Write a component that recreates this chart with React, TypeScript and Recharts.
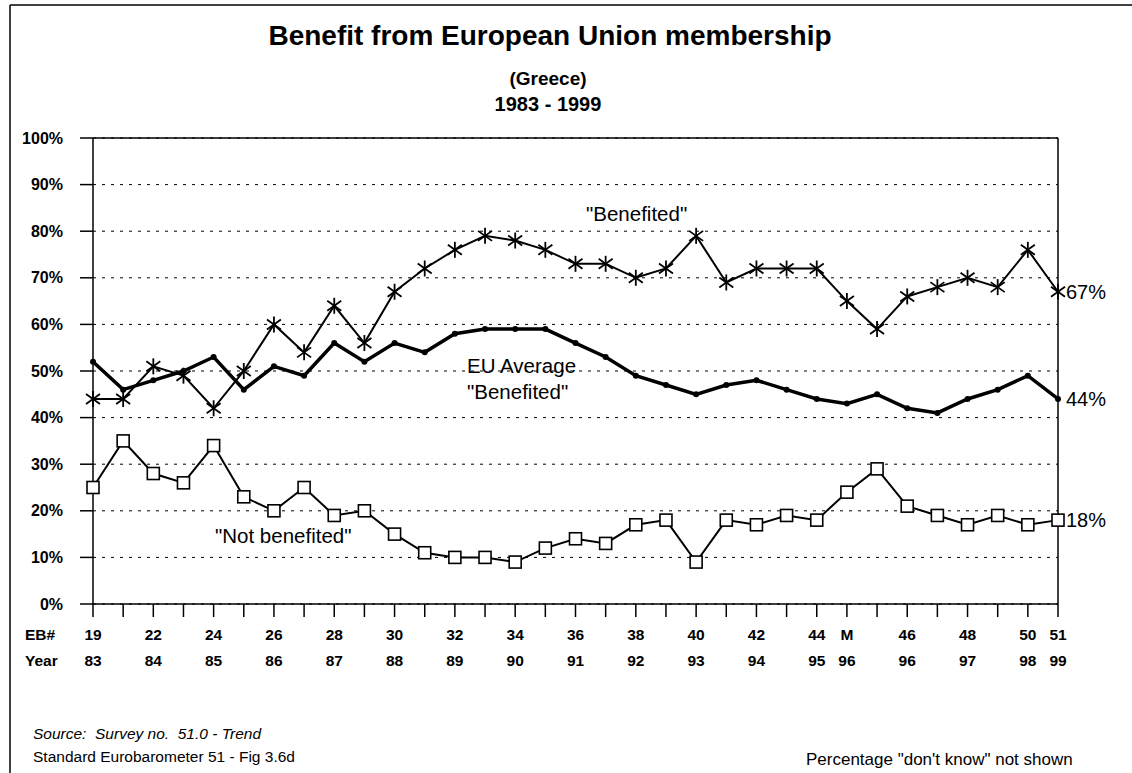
import React from 'react';
import { LineChart, Line, XAxis, YAxis, CartesianGrid, ReferenceLine } from 'recharts';

// EB survey numbers and fieldwork years under each point
const ebNumbers = ['19', '', '22', '', '24', '', '26', '', '28', '', '30', '', '32', '', '34', '', '36', '', '38', '', '40', '', '42', '', '44', 'M', '', '46', '', '48', '', '50', '51'];
const years = ['83', '', '84', '', '85', '', '86', '', '87', '', '88', '', '89', '', '90', '', '91', '', '92', '', '93', '', '94', '', '95', '96', '', '96', '', '97', '', '98', '99'];

const benefited = [44, 44, 51, 49, 42, 50, 60, 54, 64, 56, 67, 72, 76, 79, 78, 76, 73, 73, 70, 72, 79, 69, 72, 72, 72, 65, 59, 66, 68, 70, 68, 76, 67];
const euAverage = [52, 46, 48, 50, 53, 46, 51, 49, 56, 52, 56, 54, 58, 59, 59, 59, 56, 53, 49, 47, 45, 47, 48, 46, 44, 43, 45, 42, 41, 44, 46, 49, 44];
const notBenefited = [25, 35, 28, 26, 34, 23, 20, 25, 19, 20, 15, 11, 10, 10, 9, 12, 14, 13, 17, 18, 9, 18, 17, 19, 18, 24, 29, 21, 19, 17, 19, 17, 18];

const yTicks = [0, 10, 20, 30, 40, 50, 60, 70, 80, 90, 100];

const FONT = '"Liberation Sans", Arial, sans-serif';
const LAST = ebNumbers.length - 1;

const data = ebNumbers.map((eb, i) => ({
    idx: i,
    benefited: benefited[i],
    euAverage: euAverage[i],
    notBenefited: notBenefited[i],
}));

const StarDot = (props: any) => {
    const { cx, cy, index } = props;
    if (cx == null || cy == null) return <g key={`st-${index}`} />;
    return (
        <g key={`st-${index}`} stroke="#000" strokeWidth={1.8}>
            <line x1={cx} y1={cy - 8} x2={cx} y2={cy + 8} />
            <line x1={cx - 7} y1={cy - 5} x2={cx + 7} y2={cy + 5} />
            <line x1={cx - 7} y1={cy + 5} x2={cx + 7} y2={cy - 5} />
        </g>
    );
};

const SquareDot = (props: any) => {
    const { cx, cy, index } = props;
    if (cx == null || cy == null) return <g key={`sq-${index}`} />;
    return <rect key={`sq-${index}`} x={cx - 6} y={cy - 6} width={12} height={12} fill="#fff" stroke="#000" strokeWidth={1.6} />;
};

const RoundDot = (props: any) => {
    const { cx, cy, index } = props;
    if (cx == null || cy == null) return <g key={`rd-${index}`} />;
    return <circle key={`rd-${index}`} cx={cx} cy={cy} r={3} fill="#000" />;
};

const endLabel = (props: any) => {
    const { x, y, index, value } = props;
    if (index !== LAST) return null;
    return (
        <text x={x + 8} y={y} dy="0.36em" fontSize={20} fontFamily={FONT} fill="#000">
            {value}%
        </text>
    );
};

const XTick = (props: any) => {
    const { x, y, payload } = props;
    const i = payload.value;
    return (
        <g transform={`translate(${x},${y})`}>
            <text textAnchor="middle" y={23} fontSize={15.5} fontWeight="bold" fontFamily={FONT} fill="#000">{ebNumbers[i]}</text>
            <text textAnchor="middle" y={49} fontSize={15.5} fontWeight="bold" fontFamily={FONT} fill="#000">{years[i]}</text>
        </g>
    );
};

export default function App() {
    return (
        <div style={{ position: 'absolute', left: 0, top: 0, width: 1132, height: 773, background: '#fff' }}>
            <LineChart width={1132} height={773} data={data} margin={{ top: 138, right: 74, bottom: 109, left: 0 }}>
                <CartesianGrid vertical={false} stroke="#000" strokeDasharray="3 6" />
                <XAxis
                    dataKey="idx"
                    type="number"
                    domain={[0, LAST]}
                    ticks={data.map(d => d.idx)}
                    interval={0}
                    height={60}
                    tickSize={13}
                    tickMargin={0}
                    stroke="#000"
                    tickLine={{ stroke: '#000', strokeWidth: 1.5 }}
                    axisLine={{ stroke: '#000', strokeWidth: 1.5 }}
                    tick={<XTick />}
                />
                <YAxis
                    type="number"
                    domain={[0, 100]}
                    ticks={yTicks}
                    interval={0}
                    width={93}
                    tickSize={13}
                    tickMargin={17}
                    tickFormatter={(v: number) => `${v}%`}
                    axisLine={{ stroke: '#000', strokeWidth: 1.5 }}
                    tickLine={{ stroke: '#000', strokeWidth: 1.5 }}
                    tick={{ fill: '#000', fontSize: 16, fontWeight: 'bold', fontFamily: FONT }}
                />
                <ReferenceLine y={100} stroke="#000" strokeWidth={1.5} />
                <ReferenceLine x={LAST} stroke="#000" strokeWidth={1.5} />
                <Line type="linear" dataKey="euAverage" stroke="#000" strokeWidth={3.5} dot={RoundDot} isAnimationActive={false} label={endLabel} />
                <Line type="linear" dataKey="notBenefited" stroke="#000" strokeWidth={2} dot={SquareDot} isAnimationActive={false} label={endLabel} />
                <Line type="linear" dataKey="benefited" stroke="#000" strokeWidth={2} dot={StarDot} isAnimationActive={false} label={endLabel} />
            </LineChart>
            <svg width={1132} height={773} style={{ position: 'absolute', left: 0, top: 0, pointerEvents: 'none' }}>
                <line x1={10} y1={5} x2={1132} y2={5} stroke="#000" strokeWidth={1.5} />
                <line x1={10} y1={5} x2={10} y2={773} stroke="#000" strokeWidth={1.5} />
                <g fontFamily={FONT} fill="#000">
                    <text x={550} y={45} textAnchor="middle" fontSize={28} fontWeight="bold">Benefit from European Union membership</text>
                    <text x={548} y={85} textAnchor="middle" fontSize={19} fontWeight="bold">(Greece)</text>
                    <text x={548} y={111} textAnchor="middle" fontSize={20} fontWeight="bold">1983 - 1999</text>
                    <text x={586} y={221} fontSize={20.5}>"Benefited"</text>
                    <text x={467} y={373} fontSize={20.5}>EU Average</text>
                    <text x={467} y={399} fontSize={20.5}>"Benefited"</text>
                    <text x={215} y={543} fontSize={20.5}>"Not benefited"</text>
                    <text x={25} y={640} fontSize={15.5} fontWeight="bold">EB#</text>
                    <text x={25} y={666} fontSize={15.5} fontWeight="bold">Year</text>
                    <text x={33} y={739} fontSize={15.5} fontStyle="italic" xmlSpace="preserve">Source:  Survey no.  51.0 - Trend</text>
                    <text x={33} y={762} fontSize={15.5}>Standard Eurobarometer 51 - Fig 3.6d</text>
                    <text x={806} y={765} fontSize={17}>Percentage "don't know" not shown</text>
                </g>
            </svg>
        </div>
    );
}
